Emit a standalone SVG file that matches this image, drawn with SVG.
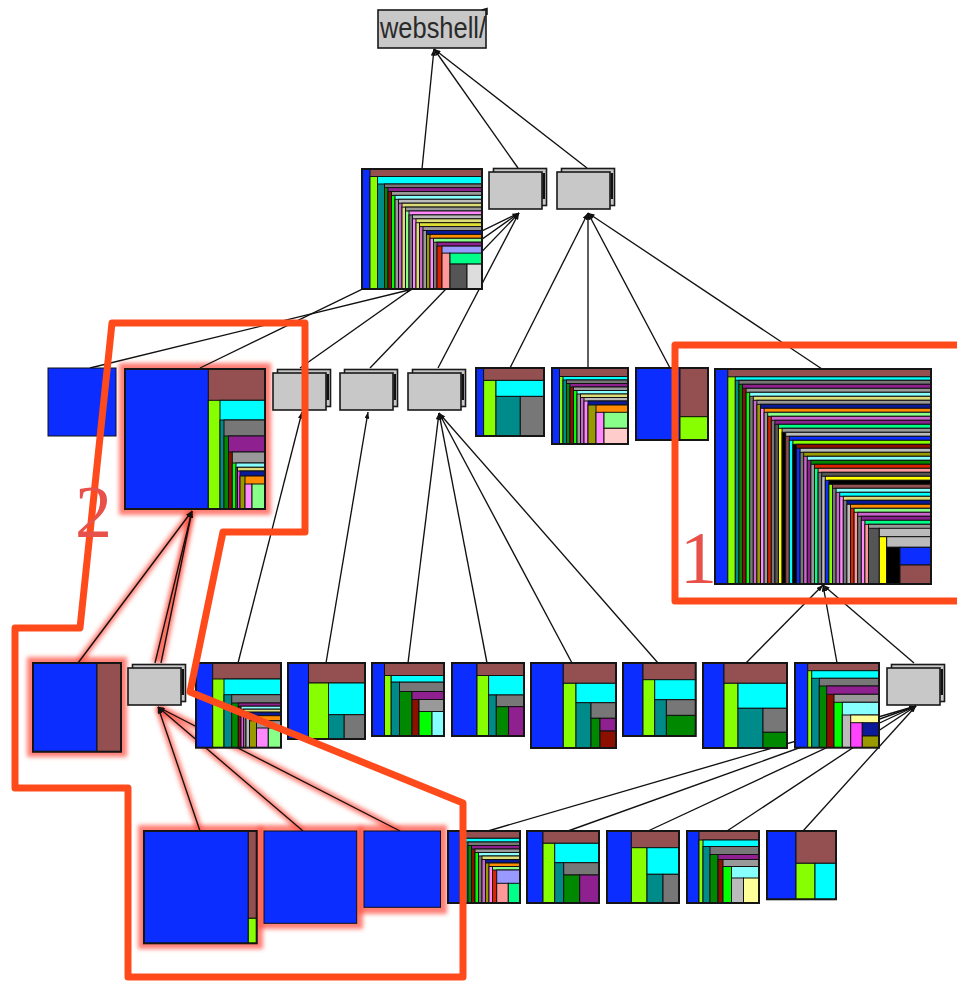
<svg xmlns="http://www.w3.org/2000/svg" width="957" height="984" viewBox="0 0 957 984">
<defs>
<style>
.b{fill:#0b2dff}.br{fill:#945050}.l{fill:#88ff00}.c{fill:#00ffff}.t{fill:#008b8b}.g{fill:#777}.gr{fill:#008800}.p{fill:#8f2090}.dr{fill:#8b1000}.g2{fill:#999}.bg{fill:#00ff00}.lc{fill:#88ffff}.lg{fill:#bbb}.ly{fill:#ffff99}.pk{fill:#ff44ff}.lp{fill:#ff88ff}.n{fill:#0a1a99}.o{fill:#999900}.or{fill:#ff8c00}.lgr{fill:#88ff88}.sa{fill:#ff9999}.mi{fill:#00ff88}.dg{fill:#555}.vl{fill:#ddd}.lv{fill:#9999ff}.y{fill:#ffff00}.k{fill:#000}.rd{fill:#dd2200}.kh{fill:#dddd77}.vi{fill:#cc66cc}.yk{fill:#dddd33}.lpk{fill:#ffcccc}
.tm rect{stroke:#111;stroke-width:1}
.tm rect.ob{fill:none;stroke:#151515;stroke-width:2}
.fr{fill:#c8c8c8;stroke:#1a1a1a;stroke-width:1.6}
.cn line{stroke:#111;stroke-width:1.35;marker-end:url(#ah)}
.gl line{stroke:#ff3a2a;stroke-width:6.5;stroke-opacity:.65}
.gl rect{fill:#ff4a3a;fill-opacity:.7}
.ann{fill:none;stroke:#ff4a1c;stroke-width:7;stroke-linejoin:round}
.num{font-family:"Liberation Serif",serif;font-size:74px;fill:#e8504a}
.lbl{font-family:"Liberation Sans",Arial,sans-serif;font-size:29px;fill:#2a2a2a}
</style>
<marker id="ah" viewBox="0 0 8 6" refX="8" refY="3" markerWidth="7" markerHeight="5" markerUnits="userSpaceOnUse" orient="auto"><path d="M0,0 L8,3 L0,6 Z" fill="#111"/></marker>
<filter id="blur" x="-30%" y="-30%" width="160%" height="160%"><feGaussianBlur stdDeviation="2"/></filter>
<clipPath id="k1"><rect width="120" height="120"/></clipPath>
<clipPath id="k2"><rect width="140" height="140"/></clipPath>
<clipPath id="k3"><rect width="76" height="76"/></clipPath>
<clipPath id="k4"><rect width="216" height="215"/></clipPath>
<clipPath id="k5"><rect width="85" height="84.7"/></clipPath>
<clipPath id="k6"><rect width="84" height="84.7"/></clipPath>
<clipPath id="k7"><rect width="72" height="72"/></clipPath>
<g id="fold"><rect class="fr" x="4.5" y="-3.5" width="53" height="37"/><rect x="53.5" y="1" width="2.5" height="26" fill="#111"/><rect class="fr" width="53" height="37"/></g>
</defs>
<rect width="957" height="984" fill="#fff"/>

<!-- red halo under highlighted connectors and nodes -->
<g class="gl" filter="url(#blur)">
<line x1="78" y1="663" x2="192" y2="511"/><line x1="155" y1="663" x2="192" y2="511"/><line x1="161" y1="663" x2="192" y2="511"/>
<line x1="200" y1="831" x2="158" y2="707"/><line x1="303" y1="831" x2="158" y2="707"/><line x1="400" y1="831" x2="158" y2="707"/>
<rect x="119" y="363" width="152" height="152"/><rect x="27" y="657" width="100" height="100"/>
<rect x="138" y="825" width="125" height="124"/><rect x="258" y="825" width="105" height="104"/><rect x="358" y="825" width="89" height="89"/>
</g>

<!-- connectors: drawn child -> parent, arrowhead at the parent -->
<g id="connectors" class="cn">
<line x1="422" y1="169" x2="434" y2="49"/><line x1="518" y1="168" x2="434" y2="49"/><line x1="587" y1="168" x2="434" y2="49"/>
<line x1="200" y1="368" x2="519" y2="213"/><line x1="300" y1="368" x2="519" y2="213"/><line x1="370" y1="368" x2="519" y2="213"/><line x1="438" y1="368" x2="519" y2="213"/>
<line x1="90" y1="368" x2="413" y2="289"/>
<line x1="510" y1="368" x2="588" y2="213"/><line x1="588" y1="368" x2="588" y2="213"/><line x1="670" y1="368" x2="588" y2="213"/><line x1="822" y1="369" x2="588" y2="213"/>
<line x1="78" y1="663" x2="192" y2="511"/><line x1="155" y1="663" x2="192" y2="511"/><line x1="161" y1="663" x2="192" y2="511"/>
<line x1="238" y1="663" x2="302" y2="412"/><line x1="326" y1="663" x2="368" y2="412"/>
<line x1="408" y1="663" x2="439" y2="413"/><line x1="487" y1="663" x2="439" y2="413"/><line x1="572" y1="663" x2="439" y2="413"/><line x1="658" y1="663" x2="439" y2="413"/>
<line x1="746" y1="663" x2="823" y2="585"/><line x1="837" y1="663" x2="823" y2="585"/><line x1="914" y1="663" x2="823" y2="585"/>
<line x1="200" y1="831" x2="158" y2="707"/><line x1="303" y1="831" x2="158" y2="707"/><line x1="400" y1="831" x2="158" y2="707"/>
<line x1="488" y1="831" x2="916" y2="706"/><line x1="568" y1="831" x2="916" y2="706"/><line x1="648" y1="831" x2="916" y2="706"/><line x1="727" y1="831" x2="916" y2="706"/><line x1="803" y1="831" x2="916" y2="706"/>
</g>

<!-- root folder -->
<g id="n-webshell"><rect class="fr" x="378" y="10" width="108" height="38"/><path d="M482,10 L487,8.5 L487,15" fill="none" stroke="#111" stroke-width="1.5"/><text class="lbl" x="380" y="37.5" textLength="106" lengthAdjust="spacingAndGlyphs">webshell/</text></g>

<!-- collapsed folders -->
<use id="n-fa" href="#fold" x="489" y="172"/>
<use id="n-fb" href="#fold" x="557" y="172"/>
<use id="n-f2a" href="#fold" x="273" y="373"/>
<use id="n-f2b" href="#fold" x="340" y="373"/>
<use id="n-f2c" href="#fold" x="408" y="373"/>
<use id="n-f3a" href="#fold" x="128" y="668"/>
<use id="n-f3b" href="#fold" x="887" y="668"/>

<!-- treemap of the root's files -->
<g id="n-t1" class="tm" transform="translate(362,169)"><g clip-path="url(#k1)">
<rect class="b" width="300" height="300"/><rect class="br" x="8" width="300" height="300"/><g transform="translate(8,7.5)">
<rect class="l" width="300" height="300"/><rect class="c" x="7.5" width="300" height="300"/><g transform="translate(7.5,7.5)">
<rect class="t" width="300" height="300"/><rect class="g" x="7" width="300" height="300"/><g transform="translate(7,3.6)">
<rect class="gr" width="300" height="300"/><rect class="p" x="3.5" width="300" height="300"/><g transform="translate(3.5,3.9)">
<rect class="dr" width="300" height="300"/><rect class="g2" x="3.5" width="300" height="300"/><g transform="translate(3.5,3.9)">
<rect class="bg" width="300" height="300"/><rect class="lc" x="3.5" width="300" height="300"/><g transform="translate(3.5,3.9)">
<rect class="g2" width="300" height="300"/><rect class="lg" x="3.5" width="300" height="300"/><g transform="translate(3.5,3.9)">
<rect class="vi" width="300" height="300"/><rect class="kh" x="3.5" width="300" height="300"/><g transform="translate(3.5,3.9)">
<rect class="kh" width="300" height="300"/><rect class="g2" x="3.5" width="300" height="300"/><g transform="translate(3.5,3.9)">
<rect class="lgr" width="300" height="300"/><rect class="lp" x="3.5" width="300" height="300"/><g transform="translate(3.5,3.9)">
<rect class="g" width="300" height="300"/><rect class="lg" x="3.5" width="300" height="300"/><g transform="translate(3.5,3.9)">
<rect class="lp" width="300" height="300"/><rect class="kh" x="3.5" width="300" height="300"/><g transform="translate(3.5,3.9)">
<rect class="kh" width="300" height="300"/><rect class="yk" x="3.5" width="300" height="300"/><g transform="translate(3.5,3.9)">
<rect class="vi" width="300" height="300"/><rect class="g2" x="3.5" width="300" height="300"/><g transform="translate(3.5,3.9)">
<rect class="g2" width="300" height="300"/><rect class="n" x="3.5" width="300" height="300"/><g transform="translate(3.5,3.9)">
<rect class="o" width="300" height="300"/><rect class="or" x="3.5" width="300" height="300"/><g transform="translate(3.5,3.9)">
<rect class="lp" width="300" height="300"/><rect class="lgr" x="3.5" width="300" height="300"/><g transform="translate(3.5,3.9)">
<rect class="g" width="300" height="300"/><rect class="p" x="3.5" width="300" height="300"/><g transform="translate(3.5,3.9)">
<rect class="rd" width="300" height="300"/><rect class="lv" x="5" width="300" height="300"/><g transform="translate(5,7)">
<rect class="sa" width="8" height="300"/><rect class="mi" x="8" width="300" height="11"/><rect class="dg" x="8" y="11" width="17" height="300"/><rect class="vl" x="25" y="11" width="300" height="300"/>
</g></g></g></g></g></g></g></g></g></g></g></g></g></g></g></g></g></g></g>
</g><rect class="ob" width="120" height="120"/></g>

<!-- second level -->
<g id="n-r2a" class="tm"><rect class="b" x="48" y="368" width="68" height="68"/></g>

<g id="n-t2" class="tm" transform="translate(125,369)"><g clip-path="url(#k2)">
<rect class="b" width="300" height="300"/><rect class="br" x="83.3" width="300" height="300"/><g transform="translate(83.3,31.3)">
<rect class="l" width="300" height="300"/><rect class="c" x="11.7" width="300" height="300"/><g transform="translate(11.7,19.7)">
<rect class="t" width="300" height="300"/><rect class="g" x="4" width="300" height="300"/><g transform="translate(4,16)">
<rect class="gr" width="300" height="300"/><rect class="p" x="4.5" width="300" height="300"/><g transform="translate(4.5,16)">
<rect class="dr" width="300" height="300"/><rect class="g2" x="3.8" width="300" height="300"/><g transform="translate(3.8,11)">
<rect class="bg" width="300" height="300"/><rect class="lc" x="3.7" width="300" height="300"/><g transform="translate(3.7,4.3)">
<rect class="g" width="300" height="300"/><rect class="kh" x="1.5" width="300" height="300"/><g transform="translate(1.5,3.7)">
<rect class="pk" width="300" height="300"/><rect class="n" x="2.5" width="300" height="300"/><g transform="translate(2.5,5)">
<rect class="o" width="300" height="300"/><rect class="or" x="5" width="300" height="300"/><g transform="translate(5,8)">
<rect class="lp" width="7" height="300"/><rect class="lgr" x="7" width="300" height="300"/>
</g></g></g></g></g></g></g></g></g>
</g><rect class="ob" width="140" height="140"/></g>

<g id="n-r2t" class="tm" transform="translate(476,368)">
<rect class="b" width="7.6" height="68"/><rect class="br" x="7.6" width="60.4" height="12.4"/><rect class="l" x="7.6" y="12.4" width="12.4" height="55.6"/><rect class="c" x="20" y="12.4" width="48" height="16"/><rect class="t" x="20" y="28.4" width="24.3" height="39.6"/><rect class="g" x="44.3" y="28.4" width="23.7" height="39.6"/>
<rect class="ob" width="68" height="68"/></g>

<g id="n-r2m" class="tm" transform="translate(552,368)"><g clip-path="url(#k3)">
<rect class="b" width="300" height="300"/><rect class="br" x="7.5" width="300" height="300"/><g transform="translate(7.5,8.5)">
<rect class="l" width="300" height="300"/><rect class="c" x="3.5" width="300" height="300"/><g transform="translate(3.5,3.5)">
<rect class="t" width="300" height="300"/><rect class="g" x="3.5" width="300" height="300"/><g transform="translate(3.5,3.5)">
<rect class="gr" width="300" height="300"/><rect class="p" x="3.5" width="300" height="300"/><g transform="translate(3.5,3.5)">
<rect class="dr" width="300" height="300"/><rect class="g2" x="3.5" width="300" height="300"/><g transform="translate(3.5,3.5)">
<rect class="bg" width="300" height="300"/><rect class="lc" x="3.5" width="300" height="300"/><g transform="translate(3.5,3.5)">
<rect class="g2" width="300" height="300"/><rect class="kh" x="3.5" width="300" height="300"/><g transform="translate(3.5,3.5)">
<rect class="vi" width="300" height="300"/><rect class="lg" x="3.5" width="300" height="300"/><g transform="translate(3.5,3.5)">
<rect class="lp" width="300" height="300"/><rect class="n" x="4" width="300" height="300"/><g transform="translate(4,4)">
<rect class="o" width="300" height="300"/><rect class="or" x="8" width="300" height="300"/><g transform="translate(8,7.3)">
<rect class="lp" width="8" height="300"/><rect class="lgr" x="8" width="300" height="16"/><rect class="lpk" x="8" y="16" width="300" height="300"/>
</g></g></g></g></g></g></g></g></g></g>
</g><rect class="ob" width="76" height="76"/></g>

<g id="n-r2s" class="tm" transform="translate(636,368)">
<rect class="b" width="44" height="72"/><rect class="br" x="44" width="28" height="48.7"/><rect class="l" x="44" y="48.7" width="28" height="23.3"/>
<rect class="ob" width="72" height="72"/></g>

<!-- large treemap -->
<g id="n-big" class="tm" transform="translate(715,369)"><g clip-path="url(#k4)">
<rect class="b" width="300" height="300"/><rect class="br" x="12.8" width="300" height="300"/><g transform="translate(12.8,7.8)">
<rect class="l" width="300" height="300"/><rect class="c" x="7.5" width="300" height="300"/><g transform="translate(7.5,3.5)">
<rect class="t" width="300" height="300"/><rect class="g" x="3.6" width="300" height="300"/><g transform="translate(3.6,4)">
<rect class="gr" width="300" height="300"/><rect class="p" x="3.6" width="300" height="300"/><g transform="translate(3.6,4)">
<rect class="dr" width="300" height="300"/><rect class="g2" x="3.6" width="300" height="300"/><g transform="translate(3.6,4)">
<rect class="bg" width="300" height="300"/><rect class="lc" x="3.6" width="300" height="300"/><g transform="translate(3.6,4)">
<rect class="g" width="300" height="300"/><rect class="kh" x="3.6" width="300" height="300"/><g transform="translate(3.6,4)">
<rect class="vi" width="300" height="300"/><rect class="g2" x="3.6" width="300" height="300"/><g transform="translate(3.6,4)">
<rect class="o" width="300" height="300"/><rect class="n" x="3.6" width="300" height="300"/><g transform="translate(3.6,4)">
<rect class="lp" width="300" height="300"/><rect class="or" x="3.6" width="300" height="300"/><g transform="translate(3.6,4)">
<rect class="g2" width="300" height="300"/><rect class="lgr" x="3.6" width="300" height="300"/><g transform="translate(3.6,4)">
<rect class="rd" width="300" height="300"/><rect class="vi" x="3.6" width="300" height="300"/><g transform="translate(3.6,4)">
<rect class="g" width="300" height="300"/><rect class="p" x="3.6" width="300" height="300"/><g transform="translate(3.6,4)">
<rect class="dg" width="300" height="300"/><rect class="mi" x="3.6" width="300" height="300"/><g transform="translate(3.6,4)">
<rect class="y" width="300" height="300"/><rect class="g2" x="3.6" width="300" height="300"/><g transform="translate(3.6,4)">
<rect class="k" width="300" height="300"/><rect class="lg" x="3.6" width="300" height="300"/><g transform="translate(3.6,4)">
<rect class="br" width="300" height="300"/><rect class="b" x="3.6" width="300" height="300"/><g transform="translate(3.6,4)">
<rect class="c" width="300" height="300"/><rect class="l" x="3.6" width="300" height="300"/><g transform="translate(3.6,4)">
<rect class="k" width="300" height="300"/><rect class="dr" x="3.6" width="300" height="300"/><g transform="translate(3.6,4)">
<rect class="b" width="300" height="300"/><rect class="lg" x="3.6" width="300" height="300"/><g transform="translate(3.6,4)">
<rect class="g" width="300" height="300"/><rect class="o" x="3.6" width="300" height="300"/><g transform="translate(3.6,4)">
<rect class="vi" width="300" height="300"/><rect class="lc" x="3.6" width="300" height="300"/><g transform="translate(3.6,4)">
<rect class="p" width="300" height="300"/><rect class="gr" x="3.6" width="300" height="300"/><g transform="translate(3.6,4)">
<rect class="g2" width="300" height="300"/><rect class="rd" x="3.6" width="300" height="300"/><g transform="translate(3.6,4)">
<rect class="mi" width="300" height="300"/><rect class="sa" x="3.6" width="300" height="300"/><g transform="translate(3.6,4)">
<rect class="g" width="300" height="300"/><rect class="dg" x="3.6" width="300" height="300"/><g transform="translate(3.6,4)">
<rect class="lg" width="300" height="300"/><rect class="y" x="3.6" width="300" height="300"/><g transform="translate(3.6,4)">
<rect class="b" width="300" height="300"/><rect class="k" x="3.6" width="300" height="300"/><g transform="translate(3.6,4)">
<rect class="l" width="300" height="300"/><rect class="br" x="3.6" width="300" height="300"/><g transform="translate(3.6,4)">
<rect class="g" width="300" height="300"/><rect class="lc" x="3.6" width="300" height="300"/><g transform="translate(3.6,4)">
<rect class="vi" width="300" height="300"/><rect class="c" x="3.6" width="300" height="300"/><g transform="translate(3.6,4)">
<rect class="lp" width="300" height="300"/><rect class="kh" x="3.6" width="300" height="300"/><g transform="translate(3.6,4)">
<rect class="g" width="300" height="300"/><rect class="n" x="3.6" width="300" height="300"/><g transform="translate(3.6,4)">
<rect class="lg" width="300" height="300"/><rect class="or" x="3.6" width="300" height="300"/><g transform="translate(3.6,4)">
<rect class="rd" width="300" height="300"/><rect class="lgr" x="3.6" width="300" height="300"/><g transform="translate(3.6,4)">
<rect class="sa" width="300" height="300"/><rect class="vi" x="3.6" width="300" height="300"/><g transform="translate(3.6,4)">
<rect class="g" width="300" height="300"/><rect class="p" x="3.6" width="300" height="300"/><g transform="translate(3.6,4)">
<rect class="lp" width="300" height="300"/><rect class="mi" x="3.6" width="300" height="300"/><g transform="translate(3.6,4)">
<rect class="sa" width="300" height="300"/><rect class="g2" x="3.6" width="300" height="300"/><g transform="translate(3.6,4)">
<rect class="dg" width="10.8" height="300"/><rect class="lg" x="10.8" width="300" height="8.4"/><rect class="y" x="10.8" y="8.4" width="7.4" height="300"/><rect class="lg" x="18.2" y="8.4" width="300" height="10.6"/><rect class="k" x="18.2" y="19" width="13.3" height="300"/><rect class="b" x="31.5" y="19" width="300" height="17.7"/><rect class="br" x="31.5" y="36.7" width="300" height="300"/>
</g></g></g></g></g></g></g></g></g></g></g></g></g></g></g></g></g></g></g></g>
</g></g></g></g></g></g></g></g></g></g></g></g></g></g></g></g></g></g></g>
</g><rect class="ob" width="216" height="215"/></g>

<!-- third level -->
<g id="n-r3a" class="tm" transform="translate(33,663)">
<rect class="b" width="64" height="88.7"/><rect class="br" x="64" width="24" height="88.7"/>
<rect class="ob" width="88" height="88.7"/></g>

<g id="n-r3b" class="tm" transform="translate(196,663)"><g clip-path="url(#k5)">
<rect class="b" width="300" height="300"/><rect class="br" x="16.7" width="300" height="300"/><g transform="translate(16.7,16)">
<rect class="l" width="300" height="300"/><rect class="c" x="11.3" width="300" height="300"/><g transform="translate(11.3,15.7)">
<rect class="t" width="300" height="300"/><rect class="g" x="7.7" width="300" height="300"/><g transform="translate(7.7,8.3)">
<rect class="gr" width="300" height="300"/><rect class="p" x="6.6" width="300" height="300"/><g transform="translate(6.6,3.2)">
<rect class="dr" width="300" height="300"/><rect class="lc" x="2.7" width="300" height="300"/><g transform="translate(2.7,3)">
<rect class="pk" width="300" height="300"/><rect class="kh" x="2.5" width="300" height="300"/><g transform="translate(2.5,3)">
<rect class="g" width="300" height="300"/><rect class="n" x="2.5" width="300" height="300"/><g transform="translate(2.5,3.5)">
<rect class="lg" width="300" height="300"/><rect class="or" x="3.5" width="300" height="300"/><g transform="translate(3.5,5)">
<rect class="o" width="300" height="300"/><rect class="g2" x="7" width="300" height="300"/><g transform="translate(7,7.3)">
<rect class="lp" width="11.8" height="300"/><rect class="lgr" x="11.8" width="300" height="300"/>
</g></g></g></g></g></g></g></g></g>
</g><rect class="ob" width="85" height="84.7"/></g>

<g id="n-r3c" class="tm" transform="translate(288,663)">
<rect class="b" width="20.5" height="76"/><rect class="br" x="20.5" width="56.5" height="20"/><rect class="l" x="20.5" y="20" width="20" height="56"/><rect class="c" x="40.5" y="20" width="36.5" height="31.7"/><rect class="t" x="40.5" y="51.7" width="15.7" height="24.3"/><rect class="g" x="56.2" y="51.7" width="20.8" height="24.3"/>
<rect class="ob" width="77" height="76"/></g>

<g id="n-r3d" class="tm" transform="translate(372,663)">
<rect class="b" width="12.5" height="73"/><rect class="br" x="12.5" width="59.5" height="12.5"/><rect class="l" x="12.5" y="12.5" width="6.7" height="60.5"/><rect class="c" x="19.2" y="12.5" width="52.8" height="6.7"/><rect class="t" x="19.2" y="19.2" width="8.3" height="53.8"/><rect class="g" x="27.5" y="19.2" width="44.5" height="9.3"/><rect class="gr" x="27.5" y="28.5" width="12.5" height="44.5"/><rect class="p" x="40" y="28.5" width="32" height="8"/><rect class="dr" x="40" y="36.5" width="7" height="36.5"/><rect class="g2" x="47" y="36.5" width="25" height="12"/><rect class="bg" x="47" y="48.5" width="13" height="24.5"/><rect class="lc" x="60" y="48.5" width="12" height="24.5"/>
<rect class="ob" width="72" height="73"/></g>

<g id="n-r3e" class="tm" transform="translate(452,663)">
<rect class="b" width="25" height="73"/><rect class="br" x="25" width="47" height="12.5"/><rect class="l" x="25" y="12.5" width="11.6" height="60.5"/><rect class="c" x="36.6" y="12.5" width="35.4" height="19.5"/><rect class="t" x="36.6" y="32" width="7.7" height="41"/><rect class="g" x="44.3" y="32" width="27.7" height="11.7"/><rect class="gr" x="44.3" y="43.7" width="12.3" height="29.3"/><rect class="p" x="56.6" y="43.7" width="15.4" height="29.3"/>
<rect class="ob" width="72" height="73"/></g>

<g id="n-r3f" class="tm" transform="translate(531,663)">
<rect class="b" width="32.3" height="85"/><rect class="br" x="32.3" width="52.7" height="20.3"/><rect class="l" x="32.3" y="20.3" width="12.7" height="64.7"/><rect class="c" x="45" y="20.3" width="40" height="19.4"/><rect class="t" x="45" y="39.7" width="15" height="45.3"/><rect class="g" x="60" y="39.7" width="25" height="15.6"/><rect class="gr" x="60" y="55.3" width="9" height="29.7"/><rect class="p" x="69" y="55.3" width="16" height="12.7"/><rect class="dr" x="69" y="68" width="16" height="17"/>
<rect class="ob" width="85" height="85"/></g>

<g id="n-r3g" class="tm" transform="translate(623,663)">
<rect class="b" width="20" height="73"/><rect class="br" x="20" width="52.7" height="16.7"/><rect class="l" x="20" y="16.7" width="11.7" height="56.3"/><rect class="c" x="31.7" y="16.7" width="41" height="20"/><rect class="t" x="31.7" y="36.7" width="11.7" height="36.3"/><rect class="g" x="43.4" y="36.7" width="29.3" height="15.7"/><rect class="gr" x="43.4" y="52.4" width="29.3" height="20.6"/>
<rect class="ob" width="72.7" height="73"/></g>

<g id="n-r3h" class="tm" transform="translate(703,663)">
<rect class="b" width="21" height="85"/><rect class="br" x="21" width="63" height="20.3"/><rect class="l" x="21" y="20.3" width="14" height="64.7"/><rect class="c" x="35" y="20.3" width="49" height="25"/><rect class="t" x="35" y="45.3" width="25" height="39.7"/><rect class="g" x="60" y="45.3" width="24" height="24"/><rect class="gr" x="60" y="69.3" width="24" height="15.7"/>
<rect class="ob" width="84" height="85"/></g>

<g id="n-r3i" class="tm" transform="translate(795,663)"><g clip-path="url(#k6)">
<rect class="b" width="300" height="300"/><rect class="br" x="12.7" width="300" height="300"/><g transform="translate(12.7,7.7)">
<rect class="l" width="300" height="300"/><rect class="c" x="4" width="300" height="300"/><g transform="translate(4,7.6)">
<rect class="t" width="300" height="300"/><rect class="g" x="7.6" width="300" height="300"/><g transform="translate(7.6,7.7)">
<rect class="gr" width="300" height="300"/><rect class="p" x="7.4" width="300" height="300"/><g transform="translate(7.4,8.3)">
<rect class="dr" width="300" height="300"/><rect class="g2" x="7.3" width="300" height="300"/><g transform="translate(7.3,8)">
<rect class="bg" width="300" height="300"/><rect class="lc" x="8.3" width="300" height="300"/><g transform="translate(8.3,12.7)">
<rect class="lg" width="300" height="300"/><rect class="ly" x="8.4" width="300" height="300"/><g transform="translate(8.4,7.7)">
<rect class="pk" width="11.6" height="300"/><rect class="n" x="11.6" width="300" height="13.3"/><rect class="o" x="11.6" y="13.3" width="300" height="300"/>
</g></g></g></g></g></g></g>
</g><rect class="ob" width="84" height="84.7"/></g>

<!-- fourth level -->
<g id="n-r4a" class="tm" transform="translate(144,831)">
<rect class="b" width="104.3" height="112.3"/><rect class="br" x="104.3" width="8.4" height="87.3"/><rect class="l" x="104.3" y="87.3" width="8.4" height="25"/>
<rect class="ob" width="112.7" height="112.3"/></g>
<g id="n-r4b" class="tm"><rect class="b" x="264" y="831" width="92.7" height="92.3"/></g>
<g id="n-r4c" class="tm"><rect class="b" x="364" y="831" width="76.5" height="76.3"/></g>

<g id="n-r4d" class="tm" transform="translate(448,831)"><g clip-path="url(#k7)">
<rect class="b" width="300" height="300"/><rect class="br" x="12" width="300" height="300"/><g transform="translate(12,7.3)">
<rect class="l" width="300" height="300"/><rect class="c" x="4" width="300" height="300"/><g transform="translate(4,3.7)">
<rect class="t" width="300" height="300"/><rect class="g" x="4" width="300" height="300"/><g transform="translate(4,3.5)">
<rect class="gr" width="300" height="300"/><rect class="p" x="3.5" width="300" height="300"/><g transform="translate(3.5,3.5)">
<rect class="dr" width="300" height="300"/><rect class="g2" x="3.5" width="300" height="300"/><g transform="translate(3.5,3.5)">
<rect class="bg" width="300" height="300"/><rect class="lc" x="3.5" width="300" height="300"/><g transform="translate(3.5,3.5)">
<rect class="g" width="300" height="300"/><rect class="kh" x="3.5" width="300" height="300"/><g transform="translate(3.5,3.5)">
<rect class="vi" width="300" height="300"/><rect class="n" x="3.5" width="300" height="300"/><g transform="translate(3.5,3.5)">
<rect class="o" width="300" height="300"/><rect class="or" x="3.5" width="300" height="300"/><g transform="translate(3.5,3.5)">
<rect class="lp" width="300" height="300"/><rect class="lgr" x="3.5" width="300" height="300"/><g transform="translate(3.5,3.5)">
<rect class="rd" width="300" height="300"/><rect class="lv" x="4.2" width="300" height="300"/><g transform="translate(4.2,13.3)">
<rect class="sa" width="11.6" height="300"/><rect class="mi" x="11.6" width="300" height="300"/>
</g></g></g></g></g></g></g></g></g></g></g>
</g><rect class="ob" width="72" height="72"/></g>

<g id="n-r4e" class="tm" transform="translate(527,831)">
<rect class="b" width="16" height="72"/><rect class="br" x="16" width="56" height="12.3"/><rect class="l" x="16" y="12.3" width="11.7" height="59.7"/><rect class="c" x="27.7" y="12.3" width="44.3" height="19.4"/><rect class="t" x="27.7" y="31.7" width="9" height="40.3"/><rect class="g" x="36.7" y="31.7" width="35.3" height="12.3"/><rect class="gr" x="36.7" y="44" width="16" height="28"/><rect class="p" x="52.7" y="44" width="19.3" height="28"/>
<rect class="ob" width="72" height="72"/></g>

<g id="n-r4f" class="tm" transform="translate(607,831)">
<rect class="b" width="24.4" height="72"/><rect class="br" x="24.4" width="47.6" height="16.7"/><rect class="l" x="24.4" y="16.7" width="15.6" height="55.3"/><rect class="c" x="40" y="16.7" width="32" height="26.6"/><rect class="t" x="40" y="43.3" width="16" height="28.7"/><rect class="g" x="56" y="43.3" width="16" height="28.7"/>
<rect class="ob" width="72" height="72"/></g>

<g id="n-r4g" class="tm" transform="translate(687,831)"><g clip-path="url(#k7)">
<rect class="b" width="300" height="300"/><rect class="br" x="12" width="300" height="300"/><g transform="translate(12,9)">
<rect class="l" width="300" height="300"/><rect class="c" x="4" width="300" height="300"/><g transform="translate(4,6.5)">
<rect class="t" width="300" height="300"/><rect class="g" x="7" width="300" height="300"/><g transform="translate(7,8)">
<rect class="gr" width="300" height="300"/><rect class="p" x="8" width="300" height="300"/><g transform="translate(8,5)">
<rect class="dr" width="300" height="300"/><rect class="g2" x="5" width="300" height="300"/><g transform="translate(5,7)">
<rect class="bg" width="300" height="300"/><rect class="lc" x="8.5" width="300" height="300"/><g transform="translate(8.5,11.5)">
<rect class="lg" width="12" height="300"/><rect class="ly" x="12" width="300" height="300"/>
</g></g></g></g></g></g>
</g><rect class="ob" width="72" height="72"/></g>

<g id="n-r4h" class="tm" transform="translate(767,831)">
<rect class="b" width="29" height="68.3"/><rect class="br" x="29" width="40" height="32.3"/><rect class="l" x="29" y="32.3" width="19" height="36"/><rect class="c" x="48" y="32.3" width="21" height="36"/>
<rect class="ob" width="69" height="68.3"/></g>

<!-- hand-drawn annotations -->
<g id="annotations">
<rect class="ann" x="675" y="345" width="300" height="256"/>
<path class="ann" d="M112,323 L305,323 L305,532 L223,532 L190,692 L463,803 L463,977 L128,977 L128,788 L15,788 L15,628 L80,628 Z"/>
<text class="num" x="680" y="583">1</text>
<text class="num" x="75" y="537">2</text>
</g>
</svg>
